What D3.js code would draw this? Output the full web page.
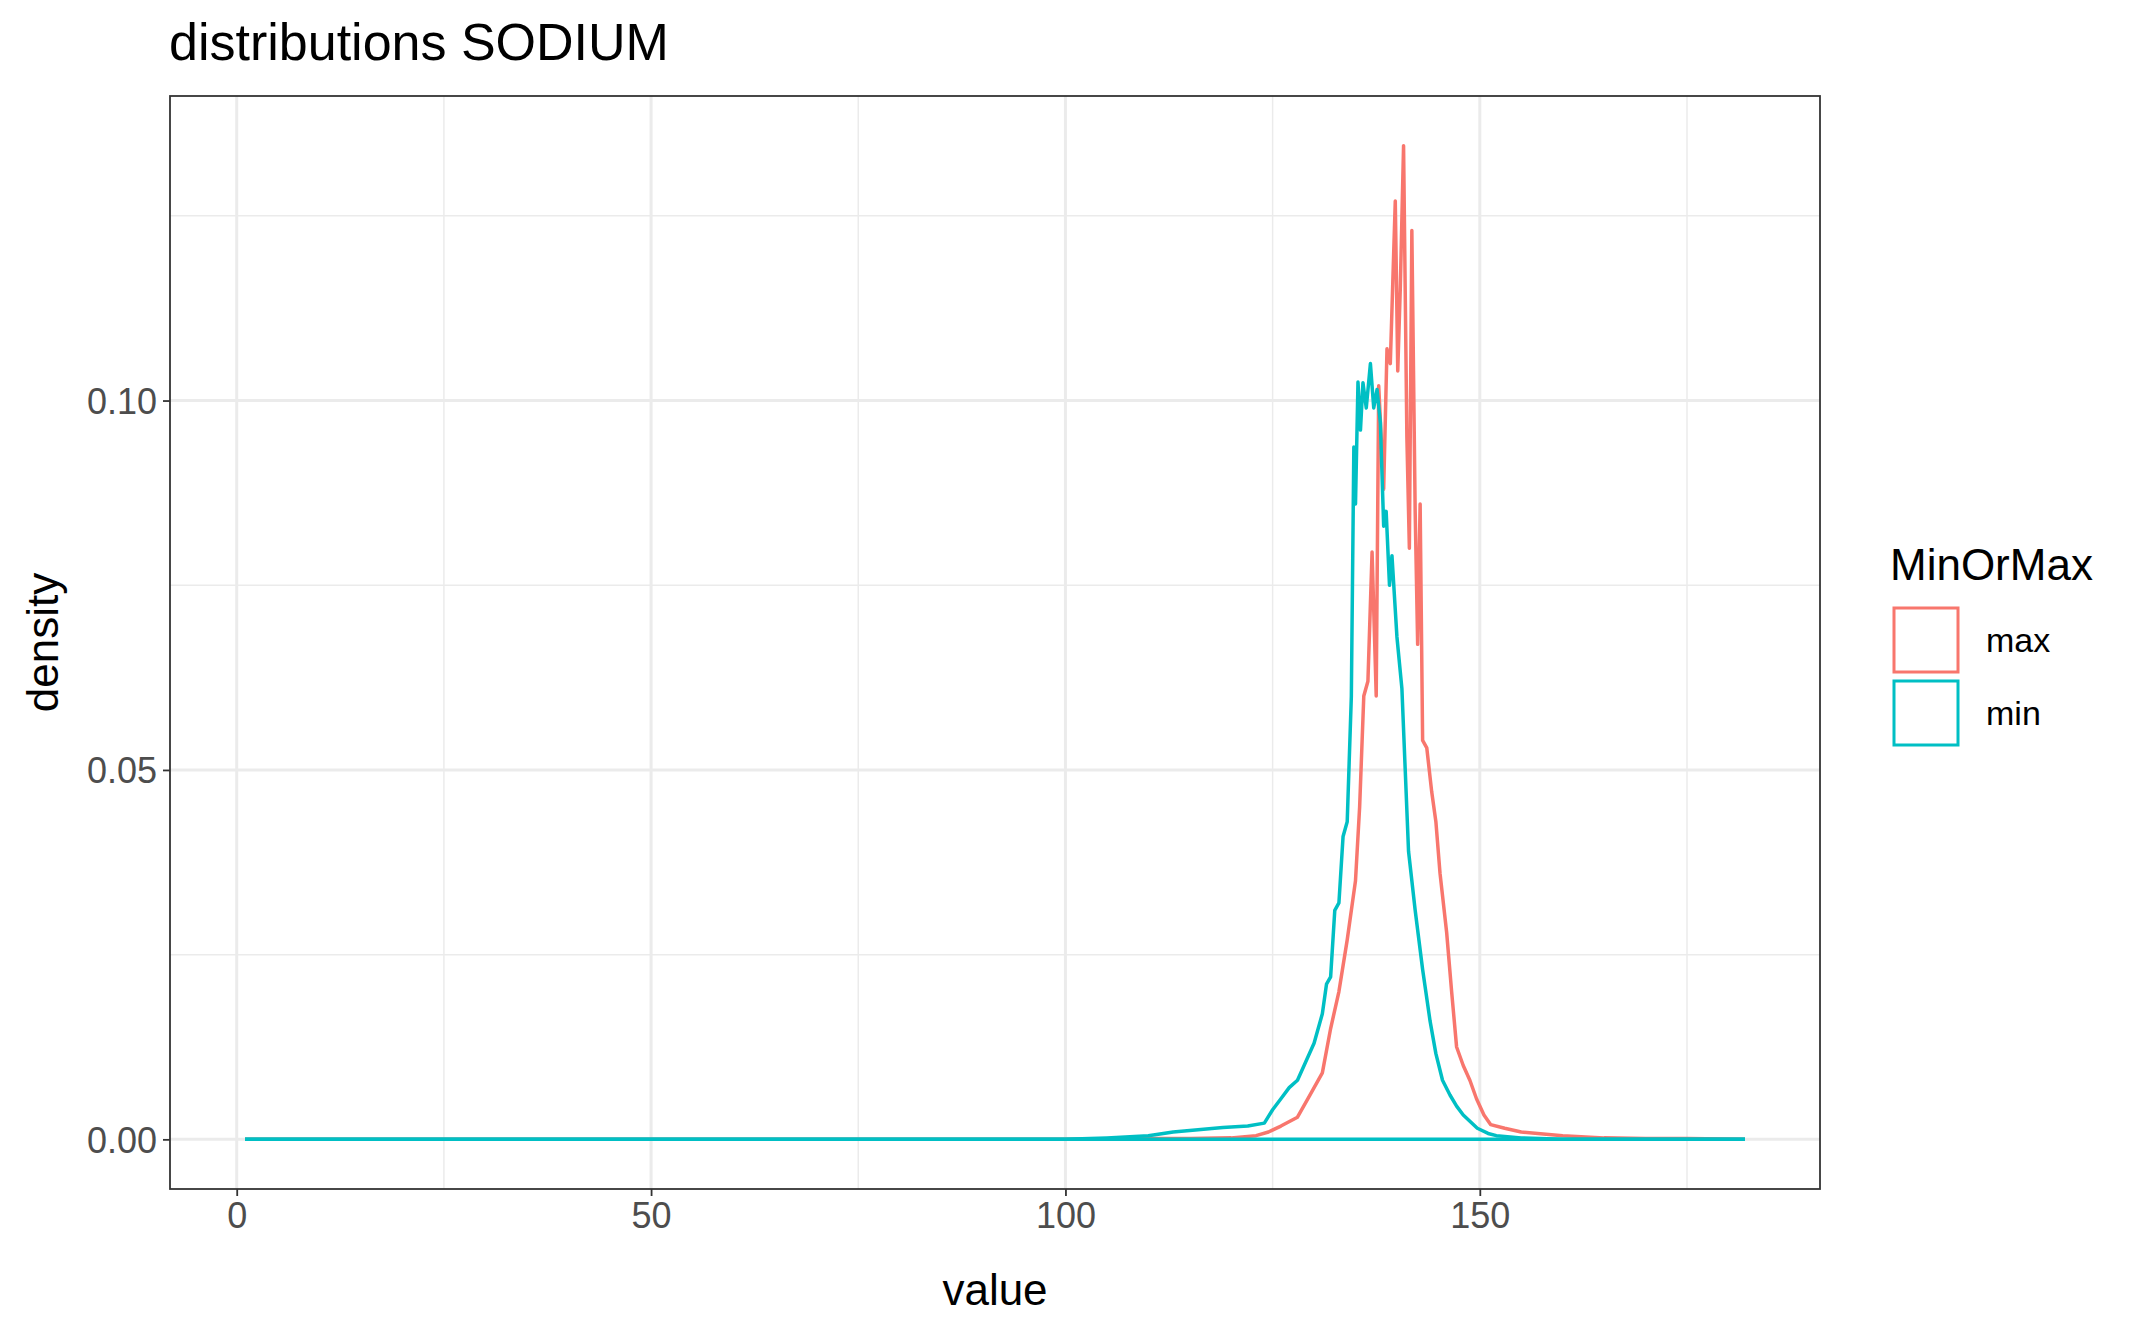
<!DOCTYPE html>
<html lang="en">
<head>
<meta charset="UTF-8">
<script src="https://d3js.org/d3.v7.min.js"></script>
<style>
  body { margin: 0; background: #fff; }
  text { font-family: "Liberation Sans", Arial, sans-serif; }
</style>
</head>
<body>
<div id="chart"></div>
<script>
    // values (density per value)
    var maxX = [1, 60, 100, 110, 115, 120, 123, 124.5, 126, 128, 129.5, 131, 132, 133, 134, 135, 135.5, 136, 136.5, 137, 137.5, 137.8, 138.4, 138.8, 139.2, 139.5, 139.8, 140.1, 140.4, 140.8, 141.2, 141.5, 141.8, 142.2, 142.5, 142.8, 143.1, 143.6, 144.2, 144.7, 145.2, 146, 146.6, 147.2, 148, 148.8, 149.6, 150.5, 151.3, 153, 155, 160, 165, 170, 175, 182];
    var maxY = [0, 0, 0, 0.0001, 0.0001, 0.0002, 0.0005, 0.001, 0.0018, 0.003, 0.006, 0.009, 0.015, 0.020, 0.027, 0.035, 0.045, 0.060, 0.062, 0.0795, 0.060, 0.102, 0.088, 0.107, 0.105, 0.116, 0.127, 0.104, 0.115, 0.1345, 0.095, 0.080, 0.123, 0.085, 0.067, 0.086, 0.054, 0.053, 0.047, 0.043, 0.036, 0.028, 0.020, 0.0125, 0.010, 0.008, 0.0055, 0.0033, 0.002, 0.0015, 0.001, 0.0005, 0.0002, 0.0001, 0.0001, 0];

    var minX = [1, 60, 100, 105, 110, 113, 116, 119, 122, 124, 125, 126, 127, 128, 129, 130, 131, 131.5, 132, 132.5, 133, 133.5, 134, 134.5, 134.8, 135.0, 135.3, 135.6, 135.9, 136.3, 136.8, 137.2, 137.6, 138.0, 138.4, 138.7, 139.1, 139.4, 140.0, 140.6, 141.0, 141.4, 142.2, 143.1, 144.0, 144.7, 145.5, 146.4, 147.2, 148, 149.7, 151, 152, 155, 160, 182];
    var minY = [0, 0, 0, 0.0002, 0.0005, 0.001, 0.0013, 0.0016, 0.0018, 0.0022, 0.004, 0.0055, 0.007, 0.008, 0.0105, 0.013, 0.017, 0.021, 0.022, 0.031, 0.032, 0.041, 0.043, 0.060, 0.0937, 0.086, 0.1025, 0.096, 0.1024, 0.099, 0.105, 0.099, 0.1015, 0.097, 0.083, 0.085, 0.075, 0.079, 0.068, 0.061, 0.050, 0.039, 0.031, 0.023, 0.016, 0.0116, 0.008, 0.006, 0.0045, 0.0033, 0.0015, 0.0008, 0.0005, 0.0002, 0, 0];

    // zero baseline of the min group spanning the full range
    var zeroX = [1, 182];
    var zeroY = [0, 0];

    var xMajor = [0, 50, 100, 150];
    var xMinor = [25, 75, 125, 175];
    var yMajor = [0, 0.05, 0.10];
    var yMinor = [0.025, 0.075, 0.125];
    var groups = ["max", "min"];
    var colors = ["#F8766D", "#00BFC4"];

    var W = 2146, H = 1326;
    var panel = {left: 170, top: 96, right: 1820, bottom: 1189};

    var x = d3.scaleLinear().domain([-8.05, 191.05]).range([panel.left, panel.right]);
    var y = d3.scaleLinear().domain([-0.00672, 0.14122]).range([panel.bottom, panel.top]);

    var svg = d3.select("#chart").append("svg")
        .attr("width", W).attr("height", H);

    svg.append("text").attr("x", 169).attr("y", 60)
        .attr("font-size", 52).attr("fill", "#000").text("distributions SODIUM");

    var g = svg.append("g");
    g.selectAll(".xmin").data(xMinor).enter().append("line")
        .attr("x1", function(d) { return x(d); }).attr("x2", function(d) { return x(d); })
        .attr("y1", panel.top).attr("y2", panel.bottom)
        .attr("stroke", "#EBEBEB").attr("stroke-width", 1.5);
    g.selectAll(".ymin").data(yMinor).enter().append("line")
        .attr("y1", function(d) { return y(d); }).attr("y2", function(d) { return y(d); })
        .attr("x1", panel.left).attr("x2", panel.right)
        .attr("stroke", "#EBEBEB").attr("stroke-width", 1.5);
    g.selectAll(".xmaj").data(xMajor).enter().append("line")
        .attr("x1", function(d) { return x(d); }).attr("x2", function(d) { return x(d); })
        .attr("y1", panel.top).attr("y2", panel.bottom)
        .attr("stroke", "#EBEBEB").attr("stroke-width", 3);
    g.selectAll(".ymaj").data(yMajor).enter().append("line")
        .attr("y1", function(d) { return y(d); }).attr("y2", function(d) { return y(d); })
        .attr("x1", panel.left).attr("x2", panel.right)
        .attr("stroke", "#EBEBEB").attr("stroke-width", 3);

    var line = d3.line()
        .x(function(d) { return x(d[0]); })
        .y(function(d) { return y(d[1]); });

    var series = [
        {pts: d3.zip(maxX, maxY), color: colors[0]},
        {pts: d3.zip(minX, minY), color: colors[1]},
        {pts: d3.zip(zeroX, zeroY), color: colors[1]}
    ];
    g.selectAll(".series").data(series).enter().append("path")
        .attr("d", function(d) { return line(d.pts); })
        .attr("fill", "none")
        .attr("stroke", function(d) { return d.color; })
        .attr("stroke-width", 3.5)
        .attr("stroke-linejoin", "round");

    g.append("rect")
        .attr("x", panel.left).attr("y", panel.top)
        .attr("width", panel.right - panel.left).attr("height", panel.bottom - panel.top)
        .attr("fill", "none").attr("stroke", "#333333").attr("stroke-width", 1.8);

    var xAxis = svg.append("g").attr("transform", "translate(0," + panel.bottom + ")")
        .call(d3.axisBottom(x).tickValues(xMajor).tickSize(7).tickPadding(6).tickFormat(d3.format("d")));
    var yAxis = svg.append("g").attr("transform", "translate(" + panel.left + ",0)")
        .call(d3.axisLeft(y).tickValues(yMajor).tickSize(7).tickPadding(6).tickFormat(d3.format(".2f")));
    [xAxis, yAxis].forEach(function(a) {
        a.select(".domain").remove();
        a.selectAll(".tick line").attr("stroke", "#333333").attr("stroke-width", 1.8);
        a.selectAll(".tick text").attr("font-size", 36).attr("fill", "#4D4D4D")
            .style("font-family", "'Liberation Sans', Arial, sans-serif");
    });
    yAxis.selectAll(".tick text").attr("dy", "0.36em");

    svg.append("text").attr("x", (panel.left + panel.right) / 2).attr("y", 1305)
        .attr("text-anchor", "middle").attr("font-size", 44).text("value");
    svg.append("text").attr("transform", "translate(58," + ((panel.top + panel.bottom) / 2) + ") rotate(-90)")
        .attr("text-anchor", "middle").attr("font-size", 44).text("density");

    var leg = svg.append("g").attr("transform", "translate(1890,0)");
    leg.append("text").attr("x", 0).attr("y", 580).attr("font-size", 44).text("MinOrMax");
    groups.forEach(function(name, i) {
        var top = 608 + i * 73;
        leg.append("rect").attr("x", 4).attr("y", top).attr("width", 64).attr("height", 64)
            .attr("fill", "#fff").attr("stroke", colors[i]).attr("stroke-width", 3);
        leg.append("text").attr("x", 96).attr("y", top + 44).attr("font-size", 34)
            .attr("fill", "#000").text(name);
    });
</script>
</body>
</html>
